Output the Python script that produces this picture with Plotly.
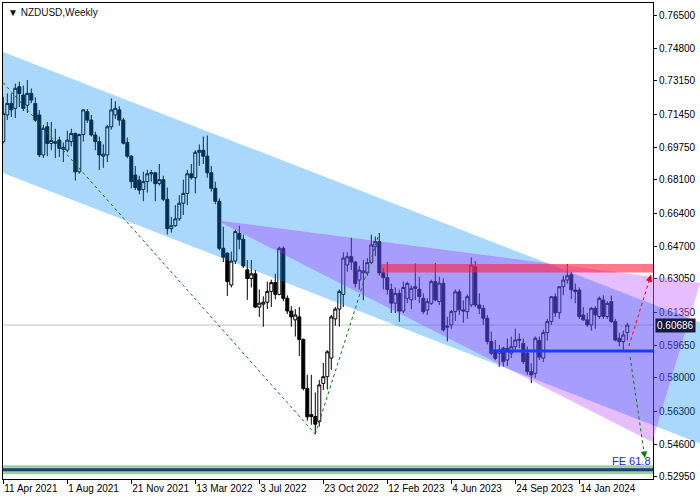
import pandas as pd
import plotly.graph_objects as go

# ---------------- data ----------------
week_start = "2021-04-11"

opens = [0.7004, 0.7140, 0.7199, 0.7174, 0.7284, 0.7242, 0.7190, 0.7250, 0.7199, 0.7140,
         0.6936, 0.7080, 0.6995, 0.7004, 0.7012, 0.6965, 0.6961, 0.7004, 0.7046, 0.6850,
         0.7040, 0.7157, 0.7114, 0.7038, 0.7004, 0.6930, 0.6936, 0.7080, 0.7140, 0.7166,
         0.7114, 0.7000, 0.6930, 0.6834, 0.6808, 0.6760, 0.6800, 0.6840, 0.6845, 0.6790,
         0.6810, 0.6710, 0.6560, 0.6575, 0.6610, 0.6690, 0.6740, 0.6840, 0.6820, 0.6950,
         0.6960, 0.6930, 0.6845, 0.6766, 0.6700, 0.6460, 0.6435, 0.6273, 0.6395, 0.6536,
         0.6506, 0.6350, 0.6306, 0.6330, 0.6160, 0.6175, 0.6185, 0.6240, 0.6285, 0.6225,
         0.6460, 0.6205, 0.6140, 0.6095, 0.6110, 0.5995, 0.5745, 0.5612, 0.5602, 0.5576,
         0.5771, 0.5805, 0.5900, 0.6100, 0.6150, 0.6225, 0.6375, 0.6417, 0.6390, 0.6298,
         0.6335, 0.6335, 0.6387, 0.6468, 0.6494, 0.6335, 0.6310, 0.6250, 0.6180, 0.6230,
         0.6140, 0.6205, 0.6197, 0.6264, 0.6251, 0.6205, 0.6145, 0.6179, 0.6290, 0.6188,
         0.6282, 0.6064, 0.6069, 0.6137, 0.6238, 0.6146, 0.6137, 0.6171, 0.6366, 0.6171,
         0.6154, 0.6103, 0.5984, 0.5941, 0.5925, 0.5950, 0.5890, 0.5925, 0.5958, 0.5996,
         0.5975, 0.5925, 0.5831, 0.5822, 0.5990, 0.5900, 0.6030, 0.6086, 0.6213, 0.6131,
         0.6264, 0.6298, 0.6325, 0.6247, 0.6247, 0.6120, 0.6095, 0.6069, 0.6154, 0.6112,
         0.6196, 0.6112, 0.6188, 0.6086, 0.6001, 0.5984, 0.6030]
highs = [0.7233, 0.7250, 0.7250, 0.7300, 0.7310, 0.7290, 0.7318, 0.7275, 0.7230, 0.7165,
         0.7090, 0.7105, 0.7105, 0.7070, 0.7030, 0.7000, 0.7060, 0.7070, 0.7050, 0.7045,
         0.7170, 0.7170, 0.7140, 0.7055, 0.7030, 0.6990, 0.7090, 0.7225, 0.7210, 0.7185,
         0.7125, 0.7025, 0.6935, 0.6880, 0.6830, 0.6850, 0.6860, 0.6860, 0.6850, 0.6890,
         0.6830, 0.6770, 0.6620, 0.6680, 0.6730, 0.6810, 0.6860, 0.6890, 0.6960, 0.6990,
         0.7030, 0.7035, 0.6880, 0.6800, 0.6715, 0.6570, 0.6440, 0.6443, 0.6555, 0.6575,
         0.6530, 0.6400, 0.6400, 0.6350, 0.6250, 0.6215, 0.6290, 0.6300, 0.6330, 0.6469,
         0.6470, 0.6220, 0.6165, 0.6150, 0.6160, 0.6000, 0.5815, 0.5815, 0.5725, 0.5789,
         0.5875, 0.5940, 0.6120, 0.6160, 0.6250, 0.6440, 0.6440, 0.6514, 0.6395, 0.6370,
         0.6400, 0.6410, 0.6530, 0.6520, 0.6538, 0.6360, 0.6390, 0.6280, 0.6260, 0.6250,
         0.6290, 0.6290, 0.6270, 0.6383, 0.6315, 0.6230, 0.6205, 0.6300, 0.6385, 0.6315,
         0.6307, 0.6111, 0.6146, 0.6250, 0.6250, 0.6195, 0.6225, 0.6413, 0.6395, 0.6230,
         0.6170, 0.6120, 0.6035, 0.5992, 0.5967, 0.5958, 0.6000, 0.6010, 0.6050, 0.6025,
         0.6000, 0.5960, 0.5873, 0.6010, 0.6010, 0.6045, 0.6100, 0.6215, 0.6230, 0.6265,
         0.6320, 0.6380, 0.6340, 0.6280, 0.6260, 0.6160, 0.6130, 0.6160, 0.6165, 0.6215,
         0.6220, 0.6190, 0.6218, 0.6100, 0.6030, 0.6040, 0.6080]
lows = [0.6995, 0.7114, 0.7130, 0.7125, 0.7180, 0.7160, 0.7150, 0.7200, 0.7105, 0.6925,
        0.6920, 0.6930, 0.6960, 0.6920, 0.6925, 0.6900, 0.6950, 0.6980, 0.6806, 0.6840,
        0.7004, 0.7100, 0.7030, 0.6960, 0.6860, 0.6870, 0.6900, 0.7065, 0.7120, 0.7085,
        0.6990, 0.6920, 0.6766, 0.6757, 0.6735, 0.6700, 0.6745, 0.6800, 0.6700, 0.6780,
        0.6700, 0.6530, 0.6540, 0.6570, 0.6600, 0.6630, 0.6680, 0.6810, 0.6740, 0.6880,
        0.6890, 0.6820, 0.6750, 0.6685, 0.6450, 0.6390, 0.6217, 0.6260, 0.6380, 0.6455,
        0.6360, 0.6197, 0.6260, 0.6155, 0.6110, 0.6060, 0.6150, 0.6160, 0.6200, 0.6220,
        0.6190, 0.6125, 0.6060, 0.6010, 0.5910, 0.5735, 0.5580, 0.5560, 0.5512, 0.5551,
        0.5737, 0.5740, 0.5840, 0.6065, 0.6060, 0.6160, 0.6340, 0.6350, 0.6260, 0.6250,
        0.6195, 0.6320, 0.6380, 0.6420, 0.6320, 0.6250, 0.6225, 0.6130, 0.6130, 0.6085,
        0.6130, 0.6180, 0.6150, 0.6196, 0.6180, 0.6125, 0.6120, 0.6171, 0.6190, 0.6170,
        0.6035, 0.5985, 0.6050, 0.6090, 0.6120, 0.6080, 0.6100, 0.6160, 0.6160, 0.6125,
        0.6070, 0.5970, 0.5916, 0.5890, 0.5856, 0.5856, 0.5860, 0.5900, 0.5940, 0.5950,
        0.5870, 0.5815, 0.5772, 0.5800, 0.5890, 0.5880, 0.5990, 0.6070, 0.6110, 0.6100,
        0.6220, 0.6280, 0.6200, 0.6180, 0.6100, 0.6090, 0.6060, 0.6040, 0.6050, 0.6100,
        0.6100, 0.6100, 0.6080, 0.5985, 0.5960, 0.5940, 0.5990]
closes = [0.7148, 0.7199, 0.7166, 0.7276, 0.7250, 0.7174, 0.7250, 0.7216, 0.7114, 0.6936,
          0.7072, 0.6995, 0.7010, 0.6996, 0.6970, 0.6975, 0.7012, 0.7046, 0.6850, 0.7040,
          0.7166, 0.7114, 0.7038, 0.7004, 0.6936, 0.6940, 0.7080, 0.7166, 0.7174, 0.7114,
          0.6996, 0.6930, 0.6800, 0.6770, 0.6757, 0.6800, 0.6840, 0.6845, 0.6790, 0.6810,
          0.6710, 0.6560, 0.6575, 0.6610, 0.6690, 0.6740, 0.6840, 0.6820, 0.6950, 0.6960,
          0.6930, 0.6845, 0.6766, 0.6700, 0.6460, 0.6415, 0.6290, 0.6395, 0.6545, 0.6506,
          0.6370, 0.6306, 0.6330, 0.6160, 0.6180, 0.6185, 0.6240, 0.6285, 0.6225, 0.6460,
          0.6205, 0.6140, 0.6110, 0.6120, 0.5995, 0.5745, 0.5600, 0.5602, 0.5563, 0.5763,
          0.5805, 0.5932, 0.6110, 0.6150, 0.6240, 0.6410, 0.6417, 0.6390, 0.6280, 0.6349,
          0.6345, 0.6387, 0.6477, 0.6494, 0.6335, 0.6310, 0.6250, 0.6180, 0.6230, 0.6140,
          0.6260, 0.6281, 0.6256, 0.6256, 0.6213, 0.6137, 0.6188, 0.6290, 0.6197, 0.6282,
          0.6044, 0.6058, 0.6137, 0.6238, 0.6146, 0.6140, 0.6213, 0.6375, 0.6171, 0.6154,
          0.6103, 0.5984, 0.5925, 0.5899, 0.5941, 0.5882, 0.5950, 0.5958, 0.5992, 0.5992,
          0.5882, 0.5831, 0.5814, 0.6001, 0.5905, 0.6030, 0.6086, 0.6213, 0.6131, 0.6264,
          0.6298, 0.6320, 0.6248, 0.6239, 0.6112, 0.6095, 0.6069, 0.6154, 0.6120, 0.6205,
          0.6112, 0.6179, 0.6086, 0.5992, 0.5984, 0.6018, 0.60686]

price_ticks = [0.765, 0.748, 0.7315, 0.7145, 0.6975, 0.681, 0.664, 0.647,
               0.6305, 0.6135, 0.5965, 0.58, 0.563, 0.546, 0.5295]
label_every = 16  # weeks between date labels

# analytical objects on the chart (bar index, price)
channel_top = [(0, 0.7461), (100, 0.6669)]
channel_width = 0.0617
triangle = [(53, 0.6605), (174.2, 0.6283), (162.2, 0.5472)]
fe_p1, fe_p2, fe_p3 = (-7, 0.7465), (78, 0.5512), (94, 0.6538)
fe_ratio = 0.618
resistance_zone = (94.4, 0.6336, 0.6380)
support_level = (121.7, 0.5936)
arrow_up = [(156.4, 0.5962), (161.9, 0.6324)]
arrow_down = [(156.7, 0.5905), (160.4, 0.5390)]

# ---------------- derived ----------------
n = len(closes)
dates = pd.date_range(week_start, periods=n, freq="7D")
idx = list(range(n))
tick_idx = list(range(0, n, label_every))
tick_text = [f"{dates[k].day} {dates[k].strftime('%b %Y')}" for k in tick_idx]

X0, X1 = -0.075, 162.425
Y0, Y1 = 0.52833, 0.77112
x_dom = 650 / 697
PLOT_W, PLOT_H = 650, 476
ppx = PLOT_W / (X1 - X0)
ppy = PLOT_H / (Y1 - Y0)

slope = (channel_top[1][1] - channel_top[0][1]) / (channel_top[1][0] - channel_top[0][0])


def top(i):
    return channel_top[0][1] + slope * (i - channel_top[0][0])


channel = [(-10, top(-10)), (200, top(200)), (200, top(200) - channel_width), (-10, top(-10) - channel_width)]


def signed_area(p):
    return sum(p[k][0] * p[(k + 1) % len(p)][1] - p[(k + 1) % len(p)][0] * p[k][1] for k in range(len(p))) / 2


def clip_poly(subject, clipper):
    sgn = 1 if signed_area(clipper) > 0 else -1

    def inside(p, a, b):
        return sgn * ((b[0] - a[0]) * (p[1] - a[1]) - (b[1] - a[1]) * (p[0] - a[0])) >= 0

    def inter(p, q, a, b):
        x1, y1 = p; x2, y2 = q; x3, y3 = a; x4, y4 = b
        den = (x1 - x2) * (y3 - y4) - (y1 - y2) * (x3 - x4)
        t = ((x1 - x3) * (y3 - y4) - (y1 - y3) * (x3 - x4)) / den
        return (x1 + t * (x2 - x1), y1 + t * (y2 - y1))

    out = list(subject)
    for k in range(len(clipper)):
        a, b = clipper[k], clipper[(k + 1) % len(clipper)]
        inp, out = out, []
        if not inp:
            break
        s = inp[-1]
        for e in inp:
            if inside(e, a, b):
                if not inside(s, a, b):
                    out.append(inter(s, e, a, b))
                out.append(e)
            elif inside(s, a, b):
                out.append(inter(s, e, a, b))
            s = e
    return out


def sub_path(poly):
    return "M " + " L ".join(f"{x:.4f},{y:.6f}" for x, y in poly) + " Z"


overlap = clip_poly(triangle, channel)
fe_level = fe_p3[1] - fe_ratio * (fe_p1[1] - fe_p2[1])

# ---------------- figure ----------------
fig = go.Figure()
fig.add_trace(go.Candlestick(
    x=idx, open=opens, high=highs, low=lows, close=closes,
    increasing=dict(line=dict(color="black", width=1), fillcolor="white"),
    decreasing=dict(line=dict(color="black", width=1), fillcolor="black"),
    whiskerwidth=0, hoverinfo="skip", showlegend=False,
))

shapes = []
shapes.append(dict(type="line", xref="x", yref="y", x0=-5, x1=200, y0=closes[-1], y1=closes[-1],
                   line=dict(color="#c0c0c0", width=1), layer="below"))
shapes.append(dict(type="path", xref="x2", yref="y", path=sub_path(channel) + " " + sub_path(overlap),
                   fillcolor="rgba(0,138,249,0.333)", line=dict(width=0), fillrule="evenodd", layer="above"))
shapes.append(dict(type="path", xref="x2", yref="y", path=sub_path(triangle) + " " + sub_path(overlap),
                   fillcolor="rgba(200,110,255,0.45)", line=dict(width=0), fillrule="evenodd", layer="above"))
shapes.append(dict(type="path", xref="x2", yref="y", path=sub_path(overlap),
                   fillcolor="rgba(93,76,251,0.55)", line=dict(width=0), layer="above"))
# FE 61.8 level
shapes.append(dict(type="rect", xref="x", yref="y", x0=-5, x1=200, y0=fe_level - 0.0024, y1=fe_level + 0.0022,
                   fillcolor="rgba(140,200,140,0.85)", line=dict(width=0), layer="above"))
shapes.append(dict(type="line", xref="x", yref="y", x0=-5, x1=200, y0=fe_level, y1=fe_level,
                   line=dict(color="#1f3f74", width=3), layer="above"))
# resistance zone & support line
shapes.append(dict(type="rect", xref="x", yref="y", x0=resistance_zone[0], x1=200,
                   y0=resistance_zone[1], y1=resistance_zone[2],
                   fillcolor="rgba(255,30,60,0.6)", line=dict(width=0), layer="above"))
shapes.append(dict(type="line", xref="x", yref="y", x0=support_level[0], x1=200,
                   y0=support_level[1], y1=support_level[1],
                   line=dict(color="#1a3cff", width=3), layer="above"))
# FE construction lines
for (a, b) in [(fe_p1, fe_p2), (fe_p2, fe_p3)]:
    shapes.append(dict(type="line", xref="x", yref="y", x0=a[0], y0=a[1], x1=b[0], y1=b[1],
                       line=dict(color="#008000", width=1, dash="3px,3px"), layer="above"))
# scenario arrows
for pts, col in [(arrow_up, "#ff0000"), (arrow_down, "#008000")]:
    shapes.append(dict(type="line", xref="x", yref="y", x0=pts[0][0], y0=pts[0][1], x1=pts[1][0], y1=pts[1][1],
                       line=dict(color=col, width=1, dash="3px,3px"), layer="above"))
fig.update_layout(shapes=shapes)

annotations = []
annotations.append(dict(xref="x domain", yref="y domain", x=0, y=1, xanchor="left", yanchor="top",
                        xshift=3, yshift=-2, showarrow=False, text="▼ NZDUSD,Weekly",
                        font=dict(family="Liberation Sans, DejaVu Sans", size=10, color="#111111")))
annotations.append(dict(xref="x domain", yref="y", x=1, y=fe_level, xanchor="right", yanchor="bottom",
                        yshift=1, showarrow=False, text="FE 61.8",
                        font=dict(family="Liberation Sans", size=11, color="#2020ff")))
annotations.append(dict(xref="x domain", yref="y", x=1, y=closes[-1], xanchor="left", yanchor="middle",
                        xshift=2, showarrow=False, text=f"{closes[-1]:.5f}", bgcolor="#141a3c",
                        borderpad=1, font=dict(family="Liberation Sans", size=10, color="white")))
for pts, col in [(arrow_up, "#ff0000"), (arrow_down, "#008000")]:
    dxp = (pts[1][0] - pts[0][0]) * ppx
    dyp = -(pts[1][1] - pts[0][1]) * ppy
    L = (dxp ** 2 + dyp ** 2) ** 0.5
    annotations.append(dict(xref="x", yref="y", x=pts[1][0], y=pts[1][1], ax=-dxp / L * 8, ay=-dyp / L * 8,
                            showarrow=True, arrowhead=2, arrowsize=1.3, arrowwidth=1, arrowcolor=col,
                            text="", standoff=0))
fig.update_layout(annotations=annotations)

axis_font = dict(family="Liberation Sans", size=10, color="black")
fig.update_layout(
    width=700, height=500, template="none",
    margin=dict(l=3, r=0, t=3, b=21, pad=0),
    paper_bgcolor="white", plot_bgcolor="rgba(0,0,0,0)",
    showlegend=False, hovermode=False,
    boxgap=0.25, boxgroupgap=0,
    xaxis=dict(domain=[0, x_dom], range=[X0, X1], tickmode="array", tickvals=tick_idx, ticktext=tick_text,
               ticks="outside", ticklen=4, tickcolor="black", showline=True, linecolor="black",
               linewidth=1, mirror=True, showgrid=False, zeroline=False, tickangle=0,
               rangeslider=dict(visible=False), ticklabelposition="outside right", tickfont=axis_font),
    xaxis2=dict(domain=[0, 1], range=[X0, X0 + (X1 - X0) / x_dom], anchor="y",
                visible=False, showgrid=False, zeroline=False, showline=False),
    yaxis=dict(side="right", anchor="x", range=[Y0, Y1], tickmode="array", tickvals=price_ticks,
               ticktext=[f"{v:.5f}" for v in price_ticks], ticks="outside", ticklen=3,
               tickcolor="black", showline=True, mirror=True, linecolor="black", linewidth=1,
               showgrid=False, zeroline=False, tickfont=axis_font),
)

fig.write_html("out.html", config={"displayModeBar": False},
               post_script="document.body.style.margin='0';document.body.style.overflow='hidden';")
